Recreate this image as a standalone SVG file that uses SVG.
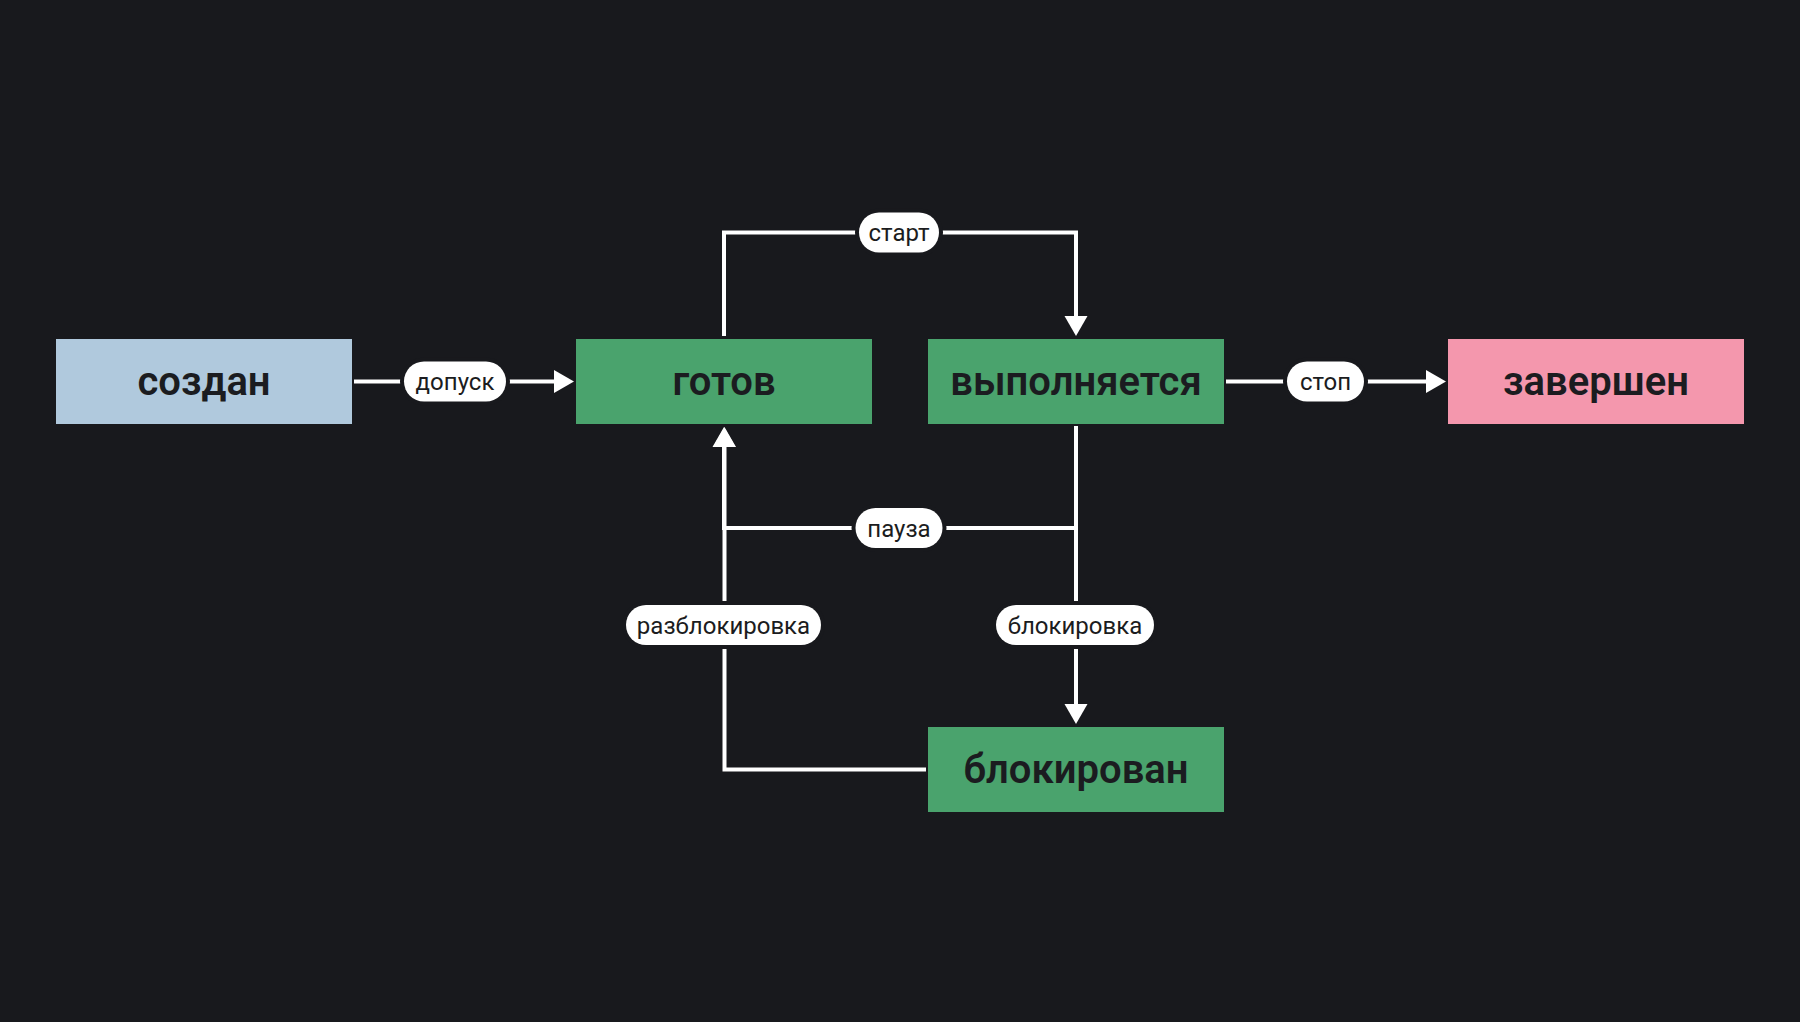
<svg xmlns="http://www.w3.org/2000/svg" width="1800" height="1022" viewBox="0 0 1800 1022">
<defs>
<style>
.node text{font-family:Roboto,"Liberation Sans",sans-serif;font-weight:600;font-size:40px;fill:#1b1c20;text-anchor:middle}
.edge{fill:none;stroke:#ffffff;stroke-width:4}
.pill rect{fill:#ffffff;stroke:#18191d;stroke-width:8;paint-order:stroke}
.pill text{font-family:Roboto,"Liberation Sans",sans-serif;font-size:24px;fill:#1b1c20;text-anchor:middle}
</style>
<marker id="arr" markerUnits="userSpaceOnUse" markerWidth="20" markerHeight="24" viewBox="0 0 20 24" refX="10" refY="12" orient="auto">
<path d="M0,0.5 L20,12 L0,23.5 Z" fill="#ffffff"/>
</marker>
</defs>
<rect width="1800" height="1022" fill="#18191d"/>
<g id="connectors">
<path class="edge" d="M354 381.5 H564" marker-end="url(#arr)"/>
<path class="edge" d="M724 336 V232.5 H1076 V326" marker-end="url(#arr)"/>
<path class="edge" d="M1226 381.5 H1436" marker-end="url(#arr)"/>
<path class="edge" d="M1076 426 V528 H724 V437" marker-end="url(#arr)"/>
<path class="edge" d="M1076 426 V714" marker-end="url(#arr)"/>
<path class="edge" d="M926 769.5 H724.5 V437" marker-end="url(#arr)"/>
<g class="pill" id="lbl-dopusk"><rect x="404" y="361.5" width="102" height="40" rx="20"/><text x="455" y="390">допуск</text></g>
<g class="pill" id="lbl-start"><rect x="859" y="212.5" width="80" height="40" rx="20"/><text x="899" y="241">старт</text></g>
<g class="pill" id="lbl-stop"><rect x="1287" y="361.5" width="77" height="40" rx="20"/><text x="1325.5" y="390">стоп</text></g>
<g class="pill" id="lbl-pause"><rect x="855.5" y="508" width="87" height="40" rx="20"/><text x="899" y="536.5">пауза</text></g>
<g class="pill" id="lbl-block"><rect x="996" y="605" width="158" height="40" rx="20"/><text x="1075" y="633.5">блокировка</text></g>
<g class="pill" id="lbl-unblock"><rect x="626" y="605" width="195" height="40" rx="20"/><text x="723.5" y="633.5">разблокировка</text></g>
</g>
<g class="node" id="n-created"><rect x="56" y="339" width="296" height="85" fill="#b0c9dd"/><text x="204" y="395">создан</text></g>
<g class="node" id="n-ready"><rect x="576" y="339" width="296" height="85" fill="#4aa36d"/><text x="724" y="395">готов</text></g>
<g class="node" id="n-running"><rect x="928" y="339" width="296" height="85" fill="#4aa36d"/><text x="1076" y="395">выполняется</text></g>
<g class="node" id="n-done"><rect x="1448" y="339" width="296" height="85" fill="#f497ad"/><text x="1596" y="395">завершен</text></g>
<g class="node" id="n-blocked"><rect x="928" y="727" width="296" height="85" fill="#4aa36d"/><text x="1076" y="783">блокирован</text></g>
</svg>
